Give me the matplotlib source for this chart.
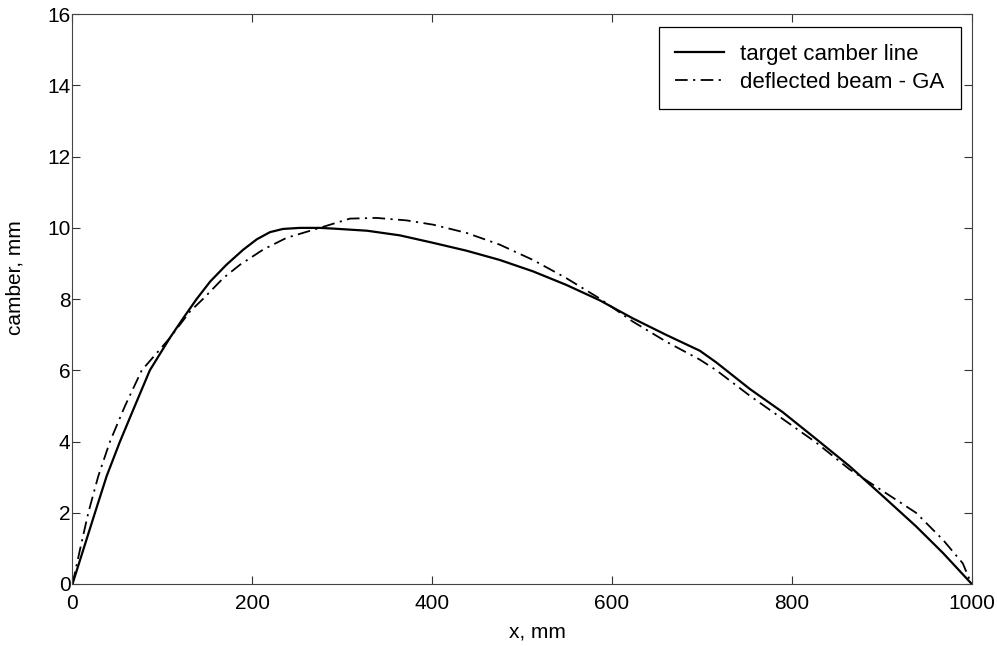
import matplotlib
matplotlib.use("Agg")
import matplotlib.pyplot as plt

plt.rcParams['font.family'] = ['Liberation Sans', 'DejaVu Sans']

# target camber line
x_target = [0, 12, 25, 38, 52.8, 69.5, 86, 108, 123, 138, 153, 171, 190, 205,
            219.6, 234, 253, 275, 290, 327.6, 364, 401, 438, 475, 512, 549,
            586, 623, 660.6, 697.6, 716, 753, 790, 827, 864, 901, 938, 968,
            1000]
y_target = [0, 0.96, 2.0, 3.03, 4.0, 5.01, 6.0, 6.9, 7.46, 8.0, 8.49, 8.96,
            9.39, 9.68, 9.88, 9.97, 10.0, 10.0, 9.98, 9.92, 9.79, 9.58, 9.36,
            9.1, 8.78, 8.40, 7.97, 7.46, 6.99, 6.55, 6.22, 5.48, 4.82, 4.07,
            3.31, 2.47, 1.62, 0.87, 0]

# deflected beam from the GA
x_ga = [0, 8.3, 17.6, 28.7, 41.7, 58.4, 77, 108, 130.6, 145, 167.7, 186, 212,
        238, 271, 308.5, 338, 371.5, 401, 438, 475, 512, 549, 586, 623, 660.6,
        697.6, 716, 753, 790, 827, 864, 901, 938, 968, 990, 998]
y_ga = [0, 0.96, 2.0, 3.03, 4.0, 5.0, 6.0, 6.9, 7.65, 8.0, 8.59, 8.96, 9.39,
        9.72, 9.97, 10.26, 10.28, 10.21, 10.09, 9.86, 9.53, 9.1, 8.59, 8.02,
        7.37, 6.8, 6.3, 6.0, 5.29, 4.63, 3.97, 3.22, 2.61, 2.0, 1.24, 0.58,
        0.1]

xticks = [0, 200, 400, 600, 800, 1000]
yticks = [0, 2, 4, 6, 8, 10, 12, 14, 16]

fig = plt.figure(figsize=(9.97, 6.46), dpi=100)
ax = fig.add_axes([0.0727, 0.096, 0.902, 0.882])

ax.plot(x_target, y_target, color='black', lw=1.6, label='target camber line')
ax.plot(x_ga, y_ga, color='black', lw=1.3, dashes=(7, 3, 1.2, 3),
        label='deflected beam - GA')

ax.set_xlim(0, 1000)
ax.set_ylim(0, 16)
ax.set_xticks(xticks)
ax.set_yticks(yticks)
ax.tick_params(direction='in', top=True, right=True, length=6,
               labelsize=15, color='#333333')
ax.tick_params(axis='x', pad=7)
ax.tick_params(axis='y', pad=1.5)
for s in ax.spines.values():
    s.set_color('#444444')

ax.set_xlabel('x, mm', fontsize=15)
ax.set_ylabel('camber, mm', fontsize=15)
ax.xaxis.set_label_coords(0.517, -0.067)
ax.yaxis.set_label_coords(-0.053, 0.537)

leg = ax.legend(loc='upper right', fontsize=16, fancybox=False,
                edgecolor='black', framealpha=1, handlelength=2.2,
                handletextpad=0.72, borderpad=0.75, labelspacing=0.3,
                borderaxespad=0, bbox_to_anchor=(0.988, 0.977))
leg.get_frame().set_linewidth(0.9)

fig.savefig('out.png', dpi=100)
